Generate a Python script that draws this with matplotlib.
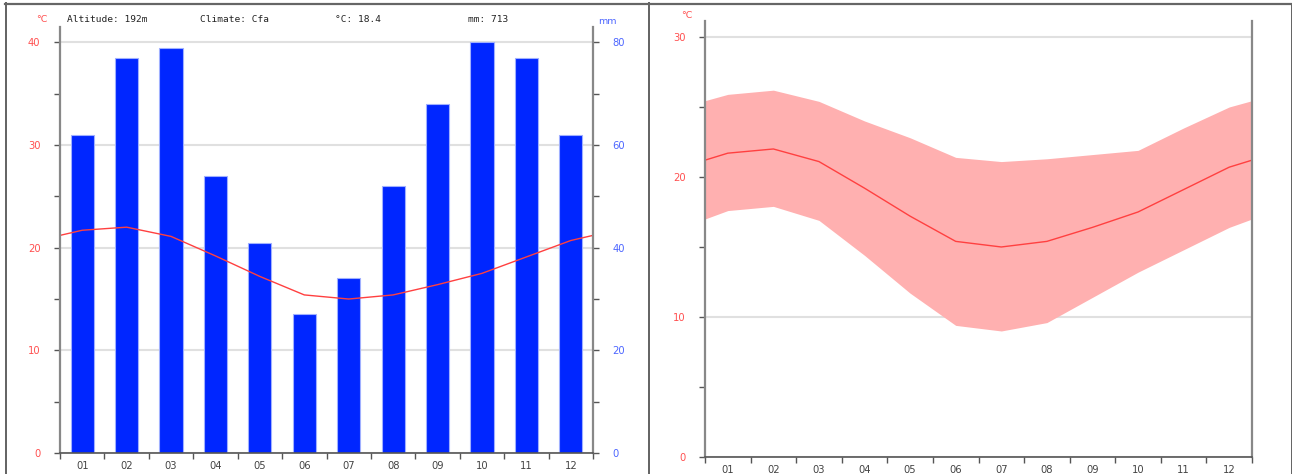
import matplotlib.pyplot as plt
import numpy as np
from matplotlib.lines import Line2D
from matplotlib.ticker import MultipleLocator

months = ['01', '02', '03', '04', '05', '06', '07', '08', '09', '10', '11', '12']
precip = [62, 77, 79, 54, 41, 27, 34, 52, 68, 80, 77, 62]
t_mean = [21.7, 22.0, 21.1, 19.2, 17.2, 15.4, 15.0, 15.4, 16.4, 17.5, 19.1, 20.7]
t_max = [25.9, 26.2, 25.4, 24.0, 22.8, 21.4, 21.1, 21.3, 21.6, 21.9, 23.5, 25.0]
t_min = [17.6, 17.9, 16.9, 14.4, 11.7, 9.4, 9.0, 9.6, 11.4, 13.2, 14.8, 16.4]
header = ['Altitude: 192m', 'Climate: Cfa', '°C: 18.4', 'mm: 713']

RED = '#ff4040'
RED_TXT = '#ff5050'
BLUE_TXT = '#4d66ff'
BAR = '#0026ff'
SPINE = '#888888'
GRID = '#e0e0e0'

W, H = 1292, 474
fig = plt.figure(figsize=(W / 100, H / 100), dpi=100)


def px(x0, y_top, x1, y_bot):
    return [x0 / W, 1 - y_bot / H, (x1 - x0) / W, (y_bot - y_top) / H]


def wrap(v):
    # periodic: Dec before Jan, Jan after Dec
    return np.r_[v[-1], v, v[0]]


x = np.arange(1, 13)
xw = np.arange(0, 14)


def style(ax, major, minor, color, grid=True):
    ax.set_xlim(0.5, 12.5)
    ax.set_xticks(x)
    ax.set_xticklabels(months)
    ax.set_xticks(np.arange(0.5, 13, 1), minor=True)
    ax.tick_params(axis='x', which='major', length=0, pad=6, labelsize=7.2, labelcolor='#444444')
    ax.tick_params(axis='x', which='minor', length=4, width=1, color='#555555')
    ax.yaxis.set_major_locator(MultipleLocator(major))
    ax.yaxis.set_minor_locator(MultipleLocator(minor))
    ax.tick_params(axis='y', which='both', length=4, width=1, color='#555555',
                   labelsize=7.2, labelcolor=color, pad=10)
    if grid:
        ax.grid(axis='y', which='major', color=GRID, lw=1.5)
    ax.set_axisbelow(True)
    for s in ['left', 'right']:
        ax.spines[s].set_color(SPINE)
        ax.spines[s].set_linewidth(1.6)
    ax.spines['top'].set_visible(False)
    ax.spines['bottom'].set_color('#555555')
    ax.spines['bottom'].set_linewidth(1.2)


# left panel: climate chart
ax1 = fig.add_axes(px(60, 27, 593, 453))
ax2 = ax1.twinx()
ax2.set_zorder(0)
ax1.set_zorder(1)
ax1.patch.set_visible(False)

ax2.bar(x, precip, width=0.52, color=BAR, edgecolor='#a0b0ff', lw=0.8)
ax2.set_ylim(0, 83)
ax2.yaxis.set_major_locator(MultipleLocator(20))
ax2.yaxis.set_minor_locator(MultipleLocator(10))
ax2.tick_params(axis='y', which='both', length=4, width=1, color='#555555',
                labelsize=7.2, labelcolor=BLUE_TXT, pad=10)
ax2.grid(axis='y', which='major', color=GRID, lw=1.5)
ax2.set_axisbelow(True)
for s in ax2.spines.values():
    s.set_visible(False)

ax1.plot(xw, wrap(t_mean), color=RED, lw=1)
style(ax1, 10, 5, RED_TXT, grid=False)
ax1.set_ylim(0, 41.5)

for txt, xp in zip(header, [67, 200, 335, 468]):
    fig.text(xp / W, 1 - 20 / H, txt, family='DejaVu Sans Mono', fontsize=6.8,
             color='#222222', va='center')
fig.text(42 / W, 1 - 20 / H, '°C', fontsize=6.8, color=RED_TXT, va='center', ha='center')
fig.text(607 / W, 1 - 22 / H, 'mm', fontsize=6.8, color=BLUE_TXT, va='center', ha='center')

# right panel: temperature range
ax3 = fig.add_axes(px(705, 21, 1252, 457))
ax3.fill_between(xw, wrap(t_min), wrap(t_max), color='#ffb0b0', lw=0)
ax3.plot(xw, wrap(t_mean), color=RED, lw=1)
style(ax3, 10, 5, RED_TXT)
ax3.set_ylim(0, 31.14)
ax3.tick_params(axis='y', which='both', right=False)
fig.text(687 / W, 1 - 16 / H, '°C', fontsize=6.8, color=RED_TXT, va='center', ha='center')

# frame lines
for xs, ys, lw in [([5, 1291], [3.5, 3.5], 2.2), ([5.5, 5.5], [3, H], 2),
                   ([648.5, 648.5], [3, H], 2), ([1290.5, 1290.5], [3, H], 1)]:
    fig.add_artist(Line2D([v / W for v in xs], [1 - v / H for v in ys],
                          color='#666666', lw=lw * 0.72, transform=fig.transFigure))

fig.savefig('out.png', dpi=100)
